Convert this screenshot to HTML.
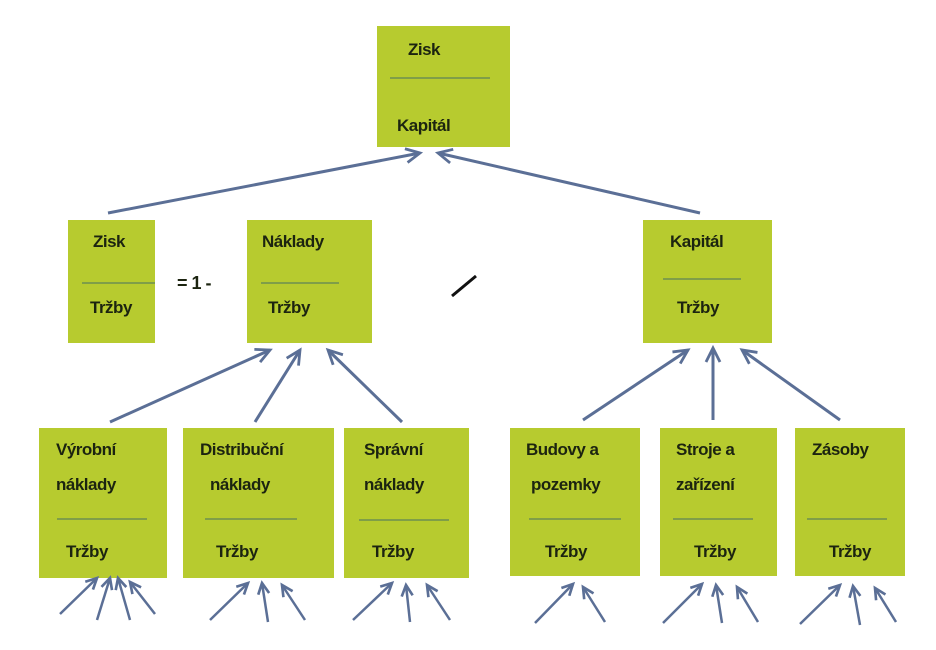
<!DOCTYPE html>
<html><head><meta charset="utf-8"><style>
body{margin:0;width:936px;height:650px;background:#fff;position:relative;overflow:hidden;font-family:"Liberation Sans",sans-serif;}
.b{position:absolute;background:#b7cb2f;}
.t{position:absolute;font-weight:bold;font-size:17px;color:#1c2410;line-height:20px;white-space:nowrap;letter-spacing:-0.5px}
.l{position:absolute;height:2px;background:#7f9e48;}
svg{position:absolute;left:0;top:0}
</style></head><body>
<div class="b" style="left:377px;top:26px;width:133px;height:121px"></div>
<div class="t" style="left:408px;top:40px">Zisk</div>
<div class="l" style="left:390px;top:77px;width:100px"></div>
<div class="t" style="left:397px;top:116px">Kapitál</div>

<div class="b" style="left:68px;top:220px;width:87px;height:123px"></div>
<div class="t" style="left:93px;top:232px">Zisk</div>
<div class="l" style="left:82px;top:282px;width:73px"></div>
<div class="t" style="left:90px;top:298px">Tržby</div>
<div class="t" style="left:177px;top:273px;font-size:18px">= 1 -</div>

<div class="b" style="left:247px;top:220px;width:125px;height:123px"></div>
<div class="t" style="left:262px;top:232px">Náklady</div>
<div class="l" style="left:261px;top:282px;width:78px"></div>
<div class="t" style="left:268px;top:298px">Tržby</div>

<div class="b" style="left:643px;top:220px;width:129px;height:123px"></div>
<div class="t" style="left:670px;top:232px">Kapitál</div>
<div class="l" style="left:663px;top:278px;width:78px"></div>
<div class="t" style="left:677px;top:298px">Tržby</div>

<div class="b" style="left:39px;top:428px;width:128px;height:150px"></div>
<div class="t" style="left:56px;top:440px">Výrobní</div>
<div class="t" style="left:56px;top:475px">náklady</div>
<div class="l" style="left:57px;top:518px;width:90px"></div>
<div class="t" style="left:66px;top:542px">Tržby</div>

<div class="b" style="left:183px;top:428px;width:151px;height:150px"></div>
<div class="t" style="left:200px;top:440px">Distribuční</div>
<div class="t" style="left:210px;top:475px">náklady</div>
<div class="l" style="left:205px;top:518px;width:92px"></div>
<div class="t" style="left:216px;top:542px">Tržby</div>

<div class="b" style="left:344px;top:428px;width:125px;height:150px"></div>
<div class="t" style="left:364px;top:440px">Správní</div>
<div class="t" style="left:364px;top:475px">náklady</div>
<div class="l" style="left:359px;top:519px;width:90px"></div>
<div class="t" style="left:372px;top:542px">Tržby</div>

<div class="b" style="left:510px;top:428px;width:130px;height:148px"></div>
<div class="t" style="left:526px;top:440px">Budovy a</div>
<div class="t" style="left:531px;top:475px">pozemky</div>
<div class="l" style="left:529px;top:518px;width:92px"></div>
<div class="t" style="left:545px;top:542px">Tržby</div>

<div class="b" style="left:660px;top:428px;width:117px;height:148px"></div>
<div class="t" style="left:676px;top:440px">Stroje a</div>
<div class="t" style="left:676px;top:475px">zařízení</div>
<div class="l" style="left:673px;top:518px;width:80px"></div>
<div class="t" style="left:694px;top:542px">Tržby</div>

<div class="b" style="left:795px;top:428px;width:110px;height:148px"></div>
<div class="t" style="left:812px;top:440px">Zásoby</div>
<div class="l" style="left:807px;top:518px;width:80px"></div>
<div class="t" style="left:829px;top:542px">Tržby</div>

<svg width="936" height="650" viewBox="0 0 936 650">
<defs>
<marker id="a" viewBox="0 0 10 10" refX="9" refY="5" markerWidth="14" markerHeight="14" orient="auto" markerUnits="userSpaceOnUse" style="overflow:visible"><path d="M-1,0 L9,5 L-1,10" fill="none" stroke="#5b6f96" stroke-width="2"/></marker>
<marker id="s" viewBox="0 0 10 10" refX="9" refY="5" markerWidth="11" markerHeight="11" orient="auto" markerUnits="userSpaceOnUse" style="overflow:visible"><path d="M-1,0 L9,5 L-1,10" fill="none" stroke="#5b6f96" stroke-width="2.4"/></marker>
</defs>
<g stroke="#5b6f96" stroke-width="3" fill="none" marker-end="url(#a)">
<line x1="108" y1="213" x2="420" y2="153"/>
<line x1="700" y1="213" x2="438" y2="153"/>
<line x1="110" y1="422" x2="270" y2="350"/>
<line x1="255" y1="422" x2="300" y2="350"/>
<line x1="402" y1="422" x2="328" y2="350"/>
<line x1="583" y1="420" x2="688" y2="350"/>
<line x1="713" y1="420" x2="713" y2="348"/>
<line x1="840" y1="420" x2="742" y2="350"/>
</g>
<g stroke="#5b6f96" stroke-width="2.5" fill="none" marker-end="url(#s)">
<line x1="60" y1="614" x2="97" y2="578"/>
<line x1="97" y1="620" x2="110" y2="578"/>
<line x1="130" y1="620" x2="118" y2="578"/>
<line x1="155" y1="614" x2="130" y2="582"/>
<line x1="210" y1="620" x2="248" y2="583"/>
<line x1="268" y1="622" x2="262" y2="583"/>
<line x1="305" y1="620" x2="282" y2="585"/>
<line x1="353" y1="620" x2="392" y2="583"/>
<line x1="410" y1="622" x2="406" y2="585"/>
<line x1="450" y1="620" x2="427" y2="585"/>
<line x1="535" y1="623" x2="573" y2="584"/>
<line x1="605" y1="622" x2="583" y2="587"/>
<line x1="663" y1="623" x2="702" y2="584"/>
<line x1="722" y1="623" x2="716" y2="585"/>
<line x1="758" y1="622" x2="737" y2="587"/>
<line x1="800" y1="624" x2="840" y2="585"/>
<line x1="860" y1="625" x2="853" y2="586"/>
<line x1="896" y1="622" x2="875" y2="588"/>
</g>
<line x1="452" y1="296" x2="476" y2="276" stroke="#111" stroke-width="3"/>
</svg>
</body></html>
